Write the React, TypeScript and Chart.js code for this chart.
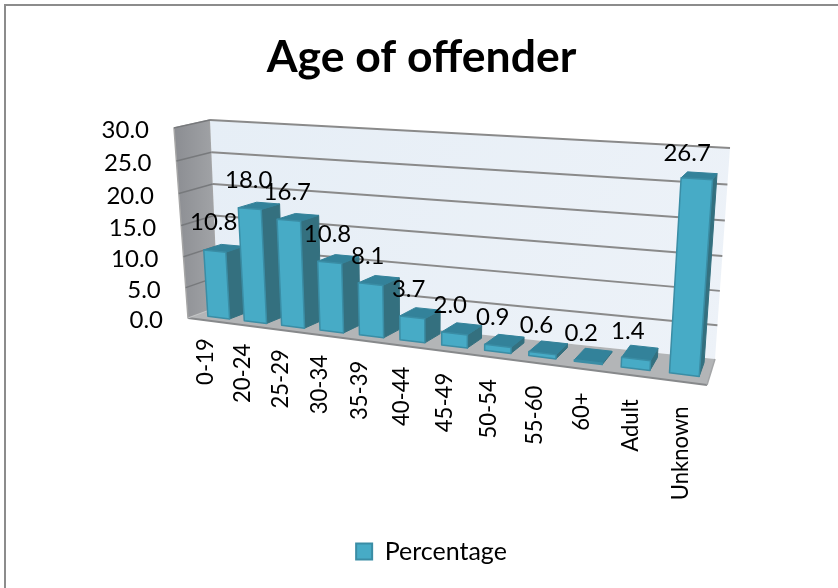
import React, { useEffect, useRef } from "react";
import { Chart, registerables } from "chart.js";

Chart.register(...registerables);

const categories = ["0-19", "20-24", "25-29", "30-34", "35-39", "40-44", "45-49", "50-54", "55-60", "60+", "Adult", "Unknown"];
const percentage = [10.8, 18.0, 16.7, 10.8, 8.1, 3.7, 2.0, 0.9, 0.6, 0.2, 1.4, 26.7];

const FONT = "Lato, Carlito, sans-serif";

type Pt = [number, number];

// Planes of the 3D box: corners are bottom-left, bottom-right, top-right, top-left.
const FRONT_PLANE: Pt[] = [[188, 318], [707, 385], [723, 157], [174, 128]];
const BACK_PLANE: Pt[] = [[218, 307], [715, 359], [730, 148], [210, 120]];
const BAR_DEPTH_NEAR = 0.28;
const BAR_DEPTH_FAR = 0.82;
// Empty margin kept between the side wall and the first category.
const CATEGORY_INSET = 0.01;

function unitSquareToQuad(q: Pt[]) {
  const [[x0, y0], [x1, y1], [x2, y2], [x3, y3]] = q;
  const dx1 = x1 - x2, dx2 = x3 - x2, sx = x0 - x1 + x2 - x3;
  const dy1 = y1 - y2, dy2 = y3 - y2, sy = y0 - y1 + y2 - y3;
  const det = dx1 * dy2 - dx2 * dy1;
  const g = (sx * dy2 - dx2 * sy) / det;
  const h = (dx1 * sy - sx * dy1) / det;
  const a = x1 - x0 + g * x1, b = x3 - x0 + h * x3;
  const d = y1 - y0 + g * y1, e = y3 - y0 + h * y3;
  return (u: number, v: number): Pt => {
    const w = g * u + h * v + 1;
    return [(a * u + b * v + x0) / w, (d * u + e * v + y0) / w];
  };
}

const frontMap = unitSquareToQuad(FRONT_PLANE);
const backMap = unitSquareToQuad(BACK_PLANE);

// u: along the categories, v: along the values, depth: 0 at the front, 1 at the back wall.
function project(u: number, v: number, depth: number): Pt {
  const f = frontMap(u, v);
  const b = backMap(u, v);
  return [f[0] + (b[0] - f[0]) * depth, f[1] + (b[1] - f[1]) * depth];
}

function categoryU(px: number, area: any) {
  return CATEGORY_INSET + (1 - CATEGORY_INSET) * ((px - area.left) / area.width);
}

function fillPoly(ctx: CanvasRenderingContext2D, pts: Pt[], fill: string | CanvasGradient, stroke?: string, lw = 1) {
  ctx.beginPath();
  pts.forEach((p, i) => (i ? ctx.lineTo(p[0], p[1]) : ctx.moveTo(p[0], p[1])));
  ctx.closePath();
  ctx.fillStyle = fill;
  ctx.fill();
  if (stroke) {
    ctx.strokeStyle = stroke;
    ctx.lineWidth = lw;
    ctx.lineJoin = "round";
    ctx.stroke();
  }
}

function line(ctx: CanvasRenderingContext2D, pts: Pt[], color: string, lw: number) {
  ctx.beginPath();
  pts.forEach((p, i) => (i ? ctx.lineTo(p[0], p[1]) : ctx.moveTo(p[0], p[1])));
  ctx.strokeStyle = color;
  ctx.lineWidth = lw;
  ctx.stroke();
}

const perspectivePlugin = {
  id: "perspectiveBox",
  beforeDraw(chart: any) {
    const { ctx, width, height } = chart;
    ctx.save();
    ctx.fillStyle = "#ffffff";
    ctx.fillRect(0, 0, width, height);
    line(ctx, [[5, height], [5, 5], [width, 5]], "#8c8c8c", 2);
    ctx.restore();
  },
  afterLayout(chart: any) {
    chart.legend.left += 20;
  },
  beforeDatasetsDraw(chart: any) {
    const { ctx } = chart;
    const yScale = chart.scales.y;
    const area = chart.chartArea;
    const toV = (value: number) => (area.bottom - yScale.getPixelForValue(value)) / area.height;
    ctx.save();

    // Side wall, back wall and floor.
    const sideGrad = ctx.createLinearGradient(174, 0, 218, 0);
    sideGrad.addColorStop(0, "#8b8d92");
    sideGrad.addColorStop(1, "#a3a5a8");
    fillPoly(ctx, [project(0, 0, 0), project(0, 0, 1), project(0, 1, 1), project(0, 1, 0)], sideGrad, "#a6a6a6", 1.5);
    const backGrad = ctx.createLinearGradient(210, 120, 730, 360);
    backGrad.addColorStop(0, "#e6eef6");
    backGrad.addColorStop(1, "#edf2f8");
    fillPoly(ctx, [project(0, 0, 1), project(1, 0, 1), project(1, 1, 1), project(0, 1, 1)], backGrad);
    fillPoly(ctx, [project(0, 0, 0), project(1, 0, 0), project(1, 0, 1), project(0, 0, 1)], "#b3b5b7");

    // Gridlines run across the back wall and along the side wall.
    yScale.ticks.forEach((t: any) => {
      const v = toV(t.value);
      if (t.value > 0) {
        line(ctx, [project(0, v, 1), project(1, v, 1)], "#8a8a8a", 2);
        line(ctx, [project(0, v, 0), project(0, v, 1)], "#77797c", 1.5);
      }
    });
    line(ctx, [project(0, 0, 0), project(1, 0, 0)], "#87898b", 2);
    line(ctx, [project(1, 0, 0), project(1, 0, 1)], "#a4a6a8", 1.5);
    line(ctx, [project(0, 0, 0), project(0, 0, 1)], "#c4c6c8", 1);

    // Value axis labels follow the front edge of the side wall.
    ctx.fillStyle = "#000000";
    ctx.font = `24px ${FONT}`;
    ctx.textAlign = "right";
    ctx.textBaseline = "middle";
    yScale.ticks.forEach((t: any) => {
      const [x, y] = project(0, toV(t.value), 0);
      ctx.fillText(t.label, x - 25, y + 2.5);
    });

    // Category labels hang under the front edge of the floor, set slightly condensed.
    const xScale = chart.scales.x;
    categories.forEach((label, i) => {
      const u = categoryU(xScale.getPixelForValue(i), area);
      const [x, y] = project(u, 0, 0);
      ctx.save();
      ctx.translate(x - 5 + 4 * u, y + 17 + 8 * u);
      ctx.rotate(-Math.PI / 2);
      ctx.scale(0.92, 1);
      ctx.textAlign = "right";
      ctx.textBaseline = "middle";
      ctx.fillText(label, 0, 0);
      ctx.restore();
    });
    ctx.restore();
  },
  beforeDatasetDraw(chart: any, args: any) {
    const { ctx } = chart;
    const area = chart.chartArea;
    const toV = (py: number) => (area.bottom - py) / area.height;
    ctx.save();
    args.meta.data.forEach((el: any) => {
      const u0 = categoryU(el.x - el.width / 2, area), u1 = categoryU(el.x + el.width / 2, area);
      const v0 = toV(el.base), v1 = toV(el.y);
      const n = BAR_DEPTH_NEAR, f = BAR_DEPTH_FAR;
      fillPoly(ctx, [project(u1, v0, n), project(u1, v0, f), project(u1, v1, f), project(u1, v1, n)], "#34707f", "#34707f", 1);
      fillPoly(ctx, [project(u0, v1, n), project(u1, v1, n), project(u1, v1, f), project(u0, v1, f)], "#33829a", "#33829a", 1);
      fillPoly(ctx, [project(u0, v0, n), project(u1, v0, n), project(u1, v1, n), project(u0, v1, n)], "#47abc6", "#3a8da5", 1.5);
    });
    ctx.restore();
    return false;
  },
  afterDatasetsDraw(chart: any) {
    const { ctx } = chart;
    const area = chart.chartArea;
    const meta = chart.getDatasetMeta(0);
    ctx.save();
    ctx.fillStyle = "#000000";
    ctx.font = `24px ${FONT}`;
    ctx.textAlign = "center";
    ctx.textBaseline = "middle";
    meta.data.forEach((el: any, i: number) => {
      const u = categoryU(el.x, area);
      const v = (area.bottom - el.y) / area.height;
      const [x, y] = project(u, v, 0.5);
      ctx.fillText(percentage[i].toFixed(1), x - 8 - 4 * u, y - 26.5 + 4 * u);
    });
    ctx.restore();
  },
};

export default function App() {
  const canvasRef = useRef<HTMLCanvasElement | null>(null);

  useEffect(() => {
    const chart = new Chart(canvasRef.current as HTMLCanvasElement, {
      type: "bar",
      data: {
        labels: categories,
        datasets: [
          {
            label: "Percentage",
            data: percentage,
            backgroundColor: "#47abc6",
            borderColor: "#3a8da5",
            borderWidth: 2,
            barPercentage: 0.6,
            categoryPercentage: 1,
          },
        ],
      },
      options: {
        animation: false,
        responsive: false,
        layout: { padding: { left: 5, bottom: 14 } },
        scales: {
          x: { display: false },
          y: {
            display: false,
            min: 0,
            max: 30,
            ticks: { stepSize: 5, callback: (value: any) => Number(value).toFixed(1) },
          },
        },
        plugins: {
          title: {
            display: true,
            text: "Age of offender",
            color: "#000000",
            font: { family: FONT, size: 44.5, weight: "bold" },
            padding: { top: 31, bottom: 10 },
          },
          legend: {
            display: true,
            position: "bottom",
            labels: {
              color: "#000000",
              font: { family: FONT, size: 25 },
              boxWidth: 16,
              boxHeight: 16,
              padding: 6,
            },
          },
          tooltip: { enabled: false },
        },
      },
      plugins: [perspectivePlugin],
    } as any);
    return () => chart.destroy();
  }, []);

  return (
    <div style={{ position: "absolute", left: 0, top: 0, width: 838, height: 588, overflow: "hidden" }}>
      <canvas ref={canvasRef} width={838} height={588} style={{ display: "block" }} />
    </div>
  );
}
